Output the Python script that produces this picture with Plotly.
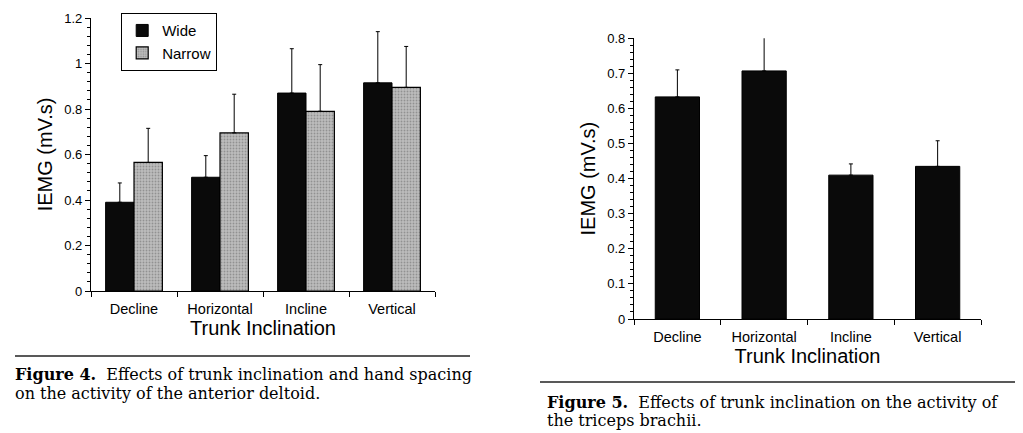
import plotly.graph_objects as go

categories = ["Decline", "Horizontal", "Incline", "Vertical"]

# Figure 4 (anterior deltoid)
wide_vals = [0.39, 0.50, 0.87, 0.915]
wide_err = [0.085, 0.095, 0.195, 0.225]
narrow_vals = [0.565, 0.695, 0.79, 0.895]
narrow_err = [0.15, 0.17, 0.205, 0.18]

# Figure 5 (triceps brachii)
tri_vals = [0.633, 0.707, 0.41, 0.435]
tri_err = [0.077, 0.11, 0.032, 0.073]

left_ticks = [0, 0.2, 0.4, 0.6, 0.8, 1, 1.2]
left_ticktext = ["0", "0.2", "0.4", "0.6", "0.8", "1", "1.2"]
right_ticks = [0, 0.1, 0.2, 0.3, 0.4, 0.5, 0.6, 0.7, 0.8]
right_ticktext = ["0", "0.1", "0.2", "0.3", "0.4", "0.5", "0.6", "0.7", "0.8"]

caption4 = ["<b>Figure 4.</b>  Effects of trunk inclination and hand spacing",
            "on the activity of the anterior deltoid."]
caption5 = ["<b>Figure 5.</b>  Effects of trunk inclination on the activity of",
            "the triceps brachii."]

W, H = 1023, 433
OFF = 8  # page body margin of the browser
SANS = "Liberation Sans, Arial, sans-serif"
SERIF = "DejaVu Serif, serif"

def px_x(p):
    return (p - OFF) / W

def px_y(p):
    return 1 - (p - OFF) / H

fig = go.Figure()

err_style = dict(type="data", symmetric=False, color="black", thickness=1, width=2)

fig.add_trace(go.Bar(
    x=categories, y=wide_vals, name="Wide", xaxis="x", yaxis="y",
    marker=dict(color="#0a0a0a", line=dict(color="black", width=1)),
    error_y=dict(array=wide_err, arrayminus=[0] * 4, **err_style),
    legendgroup="a",
))
fig.add_trace(go.Bar(
    x=categories, y=narrow_vals, name="Narrow", xaxis="x", yaxis="y",
    marker=dict(color="#b0b0b0", line=dict(color="black", width=1.2),
                pattern=dict(shape=".", fgcolor="#666666", bgcolor="#bdbdbd",
                             size=3, solidity=0.3)),
    error_y=dict(array=narrow_err, arrayminus=[0] * 4, **err_style),
    legendgroup="b",
))
fig.add_trace(go.Bar(
    x=categories, y=tri_vals, name="Triceps", xaxis="x2", yaxis="y2",
    marker=dict(color="#0a0a0a", line=dict(color="black", width=1)),
    error_y=dict(array=tri_err, arrayminus=[0] * 4, **err_style),
    showlegend=False, width=0.51,
))

axis_common = dict(showline=True, linecolor="black", linewidth=1.2, showgrid=False,
                   zeroline=False, ticks="outside", tickcolor="black", tickwidth=1,
                   automargin=False,
                   tickfont=dict(family=SANS, size=13, color="black"))

xtickfont = dict(family=SANS, size=14.5, color="black")
title_font = dict(family=SANS, size=20, color="black")

annotations = []
for line, yc in zip(caption4, [374, 393]):
    annotations.append(dict(text=line, xref="paper", yref="paper", x=px_x(13), y=px_y(yc),
                            xanchor="left", yanchor="middle", align="left", showarrow=False,
                            font=dict(family=SERIF, size=16, color="black")))
for line, yc in zip(caption5, [402, 420]):
    annotations.append(dict(text=line, xref="paper", yref="paper", x=px_x(545), y=px_y(yc),
                            xanchor="left", yanchor="middle", align="left", showarrow=False,
                            font=dict(family=SERIF, size=16, color="black")))

fig.update_layout(
    width=W, height=H,
    margin=dict(l=0, r=0, t=0, b=0, autoexpand=False),
    paper_bgcolor="white", plot_bgcolor="white",
    barmode="group", bargap=0.34, bargroupgap=0,
    showlegend=True,
    legend=dict(x=px_x(121), y=px_y(13), xanchor="left", yanchor="top",
                bordercolor="black", borderwidth=1.2, bgcolor="white",
                font=dict(family=SANS, size=15, color="black"),
                tracegroupgap=0, itemwidth=30),
    xaxis=dict(domain=[px_x(91), px_x(435)], type="category", tickson="boundaries",
               ticklen=5, range=[-0.5, 3.5], ticklabelstandoff=4,
               title=dict(text="Trunk Inclination", font=title_font, standoff=4),
               **{**axis_common, "tickfont": xtickfont}),
    yaxis=dict(domain=[px_y(291), px_y(18)], range=[0, 1.2], tickvals=left_ticks,
               ticktext=left_ticktext, ticklen=5,
               minor=dict(dtick=0.04, ticks="outside", ticklen=3, tickcolor="black", tickwidth=1),
               title=dict(text="IEMG (mV.s)", font=title_font, standoff=6),
               **axis_common),
    xaxis2=dict(domain=[px_x(634), px_x(981)], type="category", tickson="boundaries",
                ticklen=5, range=[-0.5, 3.5], anchor="y2", ticklabelstandoff=4,
                title=dict(text="Trunk Inclination", font=title_font, standoff=4),
                **{**axis_common, "tickfont": xtickfont}),
    yaxis2=dict(domain=[px_y(319), px_y(38.3)], range=[0, 0.8], tickvals=right_ticks,
                ticktext=right_ticktext, ticklen=5, anchor="x2",
                minor=dict(dtick=0.02, ticks="outside", ticklen=3, tickcolor="black", tickwidth=1),
                title=dict(text="IEMG (mV.s)", font=title_font, standoff=6),
                **axis_common),
    shapes=[
        dict(type="line", xref="paper", yref="paper", x0=px_x(15), x1=px_x(470),
             y0=px_y(356), y1=px_y(356), line=dict(color="#222", width=1.3)),
        dict(type="line", xref="paper", yref="paper", x0=px_x(540), x1=px_x(1031),
             y0=px_y(382), y1=px_y(382), line=dict(color="#222", width=1.3)),
    ],
    annotations=annotations,
)

fig.write_html("out.html")
